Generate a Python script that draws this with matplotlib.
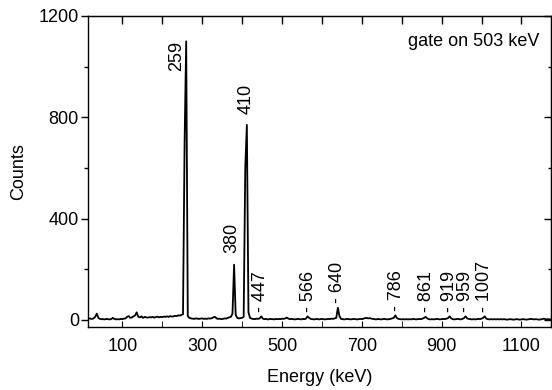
import numpy as np
import matplotlib
matplotlib.use("Agg")
import matplotlib.pyplot as plt
from matplotlib.ticker import MultipleLocator, FixedLocator

plt.rcParams['font.family'] = ['Liberation Sans', 'DejaVu Sans']
plt.rcParams['font.size'] = 13

# spectrum, 4 keV bins from 12 to 1172 keV
energy = np.arange(12, 1173, 4)
counts = [
    8, 6, 5, 4, 6, 12, 25, 8, 4, 3,
    3, 2, 4, 3, 2, 3, 8, 4, 2, 3,
    2, 4, 3, 5, 6, 12, 15, 8, 10, 14,
    18, 30, 12, 10, 14, 8, 12, 10, 9, 11,
    10, 12, 9, 11, 13, 10, 12, 11, 13, 12,
    14, 12, 15, 13, 14, 16, 15, 18, 17, 20,
    22, 700, 1100, 15, 8, 6, 5, 4, 6, 5,
    4, 5, 6, 4, 5, 4, 6, 5, 7, 10,
    12, 6, 4, 5, 3, 4, 6, 5, 8, 10,
    12, 25, 218, 20, 8, 6, 7, 8, 12, 600,
    770, 30, 8, 5, 4, 3, 5, 4, 6, 14,
    5, 3, 4, 2, 3, 4, 3, 2, 4, 3,
    4, 3, 5, 4, 6, 9, 5, 3, 4, 3,
    2, 3, 4, 3, 2, 4, 3, 5, 14, 8,
    4, 3, 2, 3, 4, 2, 3, 4, 3, 2,
    3, 4, 3, 5, 4, 6, 8, 48, 15, 4,
    3, 2, 3, 4, 3, 2, 3, 4, 3, 2,
    3, 4, 3, 5, 7, 8, 6, 7, 5, 4,
    3, 2, 4, 3, 2, 3, 4, 3, 2, 3,
    4, 6, 8, 18, 7, 4, 3, 2, 3, 2,
    3, 2, 3, 2, 4, 3, 2, 3, 4, 3,
    5, 8, 12, 6, 3, 2, 3, 2, 3, 4,
    3, 2, 3, 4, 3, 5, 7, 14, 6, 3,
    2, 3, 4, 3, 2, 4, 7, 14, 6, 4,
    3, 2, 3, 2, 3, 4, 3, 5, 8, 14,
    5, 3, 2, 3, 2, 3, 2, 3, 2, 3,
    2, 3, 2, 1, 2, 3, 2, 1, 2, 3,
    2, 1, 2, 3, 2, 1, 2, 3, 4, 3,
    2, 3, 2, 1, 2, 3, 5, 3, 2, 3,
    2,
]

# peak labels
strong_peaks = [259, 380, 410]
weak_peaks = [447, 566, 640, 786, 861, 919, 959, 1007]

fig = plt.figure(figsize=(5.52, 3.90), dpi=100)
ax = fig.add_axes([88 / 552, 1 - 327 / 390, 463 / 552, 311 / 390])

ax.plot(energy, counts, color='black', lw=1.3)

counts_arr = np.array(counts)


def local_max(e):
    sel = np.abs(energy - e) <= 6
    return counts_arr[sel].max()


# 259: label sits left of the line, top level with the peak
ax.text(257, local_max(259), '259', rotation=90, ha='right', va='top')
ax.text(375, local_max(380) + 45, '380', rotation=90, ha='center', va='bottom')
ax.text(411, local_max(410) + 42, '410', rotation=90, ha='center', va='bottom')
for e in weak_peaks:
    ax.text(e, local_max(e) + 18, '- ' + str(e), rotation=90,
            ha='center', va='bottom')

ax.text(0.975, 0.905, 'gate on 503 keV', transform=ax.transAxes,
        ha='right', va='baseline')

ax.set_xlim(14, 1174)
ax.set_ylim(-28, 1200)

# bottom axis
ax.xaxis.set_major_locator(FixedLocator([100, 300, 500, 700, 900, 1100]))
ax.xaxis.set_minor_locator(FixedLocator([200, 400, 600, 800, 1000]))
ax.tick_params(axis='x', which='both', direction='in', length=4, pad=8)
# left axis
ax.yaxis.set_major_locator(MultipleLocator(400))
ax.yaxis.set_minor_locator(MultipleLocator(200))
ax.tick_params(axis='y', which='major', direction='out', length=5, pad=1.5, width=1)
ax.tick_params(axis='y', which='minor', direction='out', length=3, width=1)

# top and right ticks
top = ax.secondary_xaxis('top')
top.xaxis.set_major_locator(MultipleLocator(100))
top.tick_params(direction='in', length=6, labeltop=False, width=1)
right = ax.secondary_yaxis('right')
right.yaxis.set_major_locator(MultipleLocator(400))
right.yaxis.set_minor_locator(MultipleLocator(200))
right.tick_params(which='major', direction='in', length=5, labelright=False, width=1)
right.tick_params(which='minor', direction='in', length=2.5, width=1)

for s in ax.spines.values():
    s.set_linewidth(1.0)

ax.set_xlabel('Energy (keV)', labelpad=10)
ax.set_ylabel('Counts', labelpad=8)

fig.savefig('out.png', dpi=100)
